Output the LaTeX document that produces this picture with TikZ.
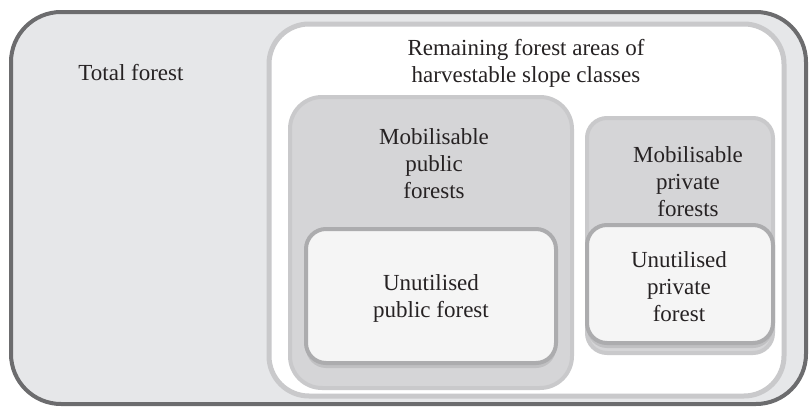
\documentclass[tikz,border=0pt]{standalone}
\usepackage{fontspec}
\setmainfont{Liberation Serif}
\usetikzlibrary{shadows}

\definecolor{outerfill}{RGB}{230,231,233}
\definecolor{outerline}{RGB}{108,108,110}
\definecolor{ringline}{RGB}{201,201,203}
\definecolor{midfill}{RGB}{213,213,215}
\definecolor{innerfill}{RGB}{245,245,245}
\definecolor{innerline}{RGB}{172,172,174}
\definecolor{shadowgray}{RGB}{192,192,194}
\definecolor{textgray}{RGB}{38,34,35}

\tikzset{
  areabox/.style={draw, inner sep=0pt, outer sep=0pt},
  totalbox/.style={areabox, fill=outerfill, draw=outerline, line width=2pt, rounded corners=25pt},
  harvestbox/.style={areabox, fill=white, draw=ringline, line width=2.5pt, rounded corners=20pt},
  mobilbox/.style={areabox, fill=midfill, draw=ringline, line width=2pt},
  unusedbox/.style={areabox, fill=innerfill, draw=innerline, line width=2pt, rounded corners=10pt,
    drop shadow={shadow xshift=0pt, shadow yshift=-2.5pt, fill=shadowgray, opacity=1}},
  boxtext/.style={inner sep=0pt, align=center, text=textgray, font=\fontsize{11.5}{13.5}\selectfont}
}

\begin{document}
\begin{tikzpicture}[x=0.5pt,y=-0.5pt]
  \useasboundingbox (0,0) rectangle (810,407);

  % nested areas
  \node[totalbox, minimum width=397.5pt, minimum height=196pt] (total) at (408.5,208) {};
  \node[harvestbox, minimum width=257.5pt, minimum height=186pt] (harvest) at (526.5,210) {};
  \node[mobilbox, rounded corners=16pt, minimum width=141pt, minimum height=145.5pt] (mobpub) at (431,242.5) {};
  \node[unusedbox, minimum width=125pt, minimum height=67pt] (unpub) at (431,296) {};
  \node[mobilbox, rounded corners=10pt, minimum width=93pt, minimum height=117.5pt] (mobpriv) at (680,235.5) {};
  \node[unusedbox, minimum width=93pt, minimum height=59pt] (unpriv) at (680,284) {};

  % labels
  \node[boxtext] (totaltext) at (131,72.5) {Total forest};
  \node[boxtext] (harvesttext) at (526,63.5) {Remaining forest areas of\\harvestable slope classes};
  \node[boxtext] (mobpubtext) at (434,164) {Mobilisable\\public\\forests};
  \node[boxtext] (unpubtext) at (431,298) {Unutilised\\public forest};
  \node[boxtext] (mobprivtext) at (688,182) {Mobilisable\\private\\forests};
  \node[boxtext] (unprivtext) at (679,287) {Unutilised\\private\\forest};
\end{tikzpicture}
\end{document}
